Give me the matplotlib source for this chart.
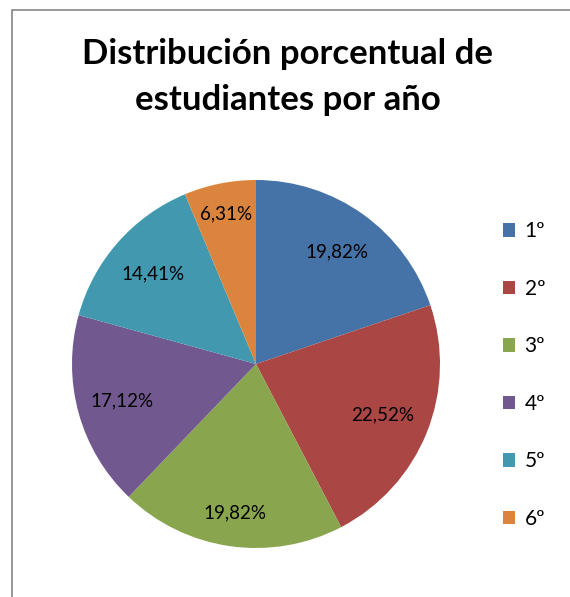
import matplotlib
matplotlib.use('Agg')
import numpy as np
import matplotlib.pyplot as plt
from matplotlib.patches import Rectangle, Patch

plt.rcParams['font.family'] = ['Lato', 'DejaVu Sans']

labels = ['1º', '2º', '3º', '4º', '5º', '6º']
values = [19.82, 22.52, 19.82, 17.12, 14.41, 6.31]
colors = ['#4572A7', '#AA4643', '#89A54E', '#71588F', '#4198AF', '#DB843D']
label_dist = [0.75, 0.74, 0.815, 0.755, 0.745, 0.83]

fig = plt.figure(figsize=(5.70, 5.97), dpi=100)

# chart frame (only left and top edges visible in the crop)
fig.patches.append(Rectangle((11.5/570, -0.1), 1.2, 1.1 - 10.5/597,
                             transform=fig.transFigure, fill=False,
                             edgecolor='#868686', lw=1.2))

ax = fig.add_axes([72/570, 49/597, 368/570, 368/597])
wedges, texts, autotexts = ax.pie(values, colors=colors, startangle=90,
                                  counterclock=False, autopct='%1.2f%%',
                                  pctdistance=0.75,
                                  textprops={'fontsize': 13.5})
for t, d, w in zip(autotexts, label_dist, wedges):
    ang = np.deg2rad((w.theta1 + w.theta2) / 2)
    t.set_position((d*np.cos(ang), d*np.sin(ang)))
    t.set_text(t.get_text().replace('.', ','))
ax.set_xlim(-1, 1)
ax.set_ylim(-1, 1)

fig.text(288/570, 1 - 77/597, 'Distribución porcentual de\nestudiantes por año',
         ha='center', va='center', fontsize=25, fontweight='bold',
         linespacing=1.55)

handles = [Patch(facecolor=c, label=l) for c, l in zip(colors, labels)]
fig.legend(handles=handles, loc='center left', bbox_to_anchor=(484/570, 1 - 375/597),
           frameon=False, fontsize=15, handlelength=0.6, handleheight=0.6,
           handletextpad=0.45, labelspacing=1.8)

fig.savefig('out.png', dpi=100)
